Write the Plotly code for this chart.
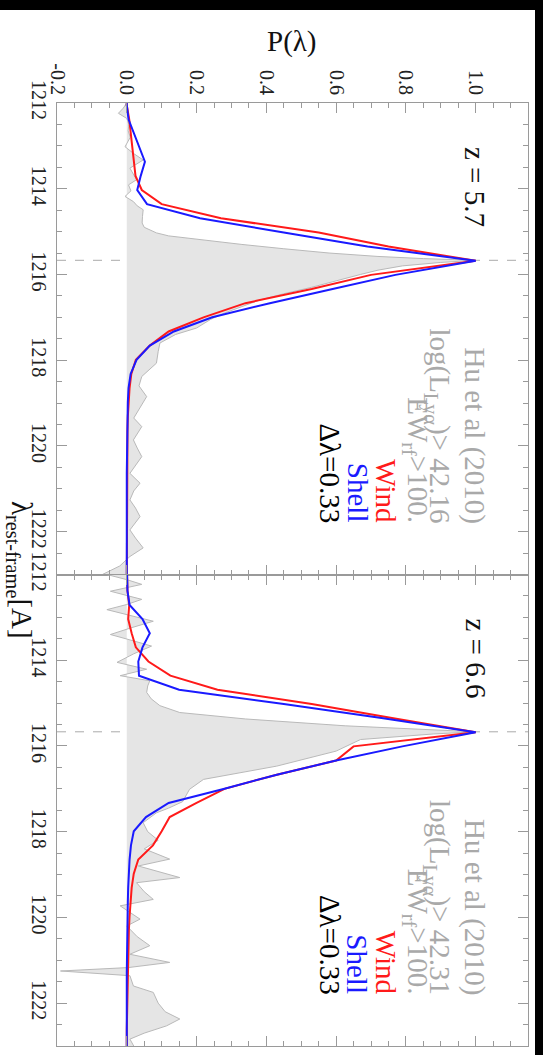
import plotly.graph_objects as go

# ---- model wavelength grid (Å) and profiles -------------------------------
lam_model = [1211.72, 1212.05, 1212.38, 1212.71, 1213.04, 1213.37, 1213.70, 1214.03,
             1214.36, 1214.69, 1215.02, 1215.35, 1215.68, 1216.01, 1216.34, 1216.67,
             1217.00, 1217.33, 1217.66, 1217.99, 1218.32, 1218.65, 1218.98, 1219.31,
             1219.64, 1219.97, 1220.30, 1220.63, 1220.96, 1221.29, 1221.62, 1221.95,
             1222.28, 1222.61, 1222.94, 1223.27]

wind_z57 = [0, 0, 0.007, 0.011, 0.015, 0.019, 0.025, 0.043, 0.10, 0.27, 0.55, 0.75,
            1.0, 0.70, 0.53, 0.34, 0.22, 0.12, 0.066, 0.026, 0.013, 0.008, 0.005, 0.003,
            0.002, 0.002, 0.001, 0.001, 0.001, 0.001, 0, 0, 0, 0, 0, 0]
shell_z57 = [0, 0, 0.005, 0.02, 0.037, 0.052, 0.04, 0.03, 0.058, 0.21, 0.45, 0.69,
             1.0, 0.77, 0.59, 0.41, 0.245, 0.135, 0.066, 0.028, 0.011, 0.005, 0.003, 0.002,
             0.001, 0.001, 0.001, 0, 0, 0, 0, 0, 0, 0, 0, 0]
wind_z66 = [0, 0, 0.002, 0.007, 0.004, 0.014, 0.026, 0.062, 0.125, 0.26, 0.53, 0.76,
            1.0, 0.65, 0.60, 0.43, 0.28, 0.20, 0.123, 0.10, 0.075, 0.033, 0.02, 0.014,
            0.010, 0.008, 0.006, 0.005, 0.003, 0.002, 0.001, 0.001, 0, 0, 0, 0]
shell_z66 = [0, 0, 0.002, 0.008, 0.045, 0.066, 0.045, 0.033, 0.035, 0.15, 0.45, 0.73,
             1.0, 0.79, 0.60, 0.43, 0.28, 0.12, 0.055, 0.02, 0.012, 0.008, 0.005, 0.004,
             0.003, 0.002, 0.002, 0.001, 0.001, 0, 0, 0, 0, 0, 0, 0]

# ---- observed stacked profiles (Hu et al 2010) ----------------------------
lam_obs_z57 = [1212.00, 1212.12, 1212.24, 1212.36, 1212.50, 1212.65, 1212.80, 1213.02,
               1213.18, 1213.33, 1213.52, 1213.66, 1213.79, 1213.91, 1214.05, 1214.18,
               1214.30, 1214.40, 1214.49, 1214.65, 1214.80, 1214.90, 1215.03, 1215.10,
               1215.20, 1215.30, 1215.40, 1215.50, 1215.58, 1215.63, 1215.67, 1215.72,
               1215.80, 1215.90, 1216.00, 1216.15, 1216.30, 1216.45, 1216.60, 1216.75,
               1216.90, 1217.05, 1217.25, 1217.40, 1217.60, 1217.80, 1218.07, 1218.38,
               1218.60, 1218.85, 1219.16, 1219.35, 1219.55, 1219.86, 1220.05, 1220.25,
               1220.64, 1220.87, 1221.05, 1221.26, 1221.45, 1221.65, 1221.96, 1222.15,
               1222.38, 1222.58, 1222.80, 1223.00]
obs_z57 = [0.0, -0.01, -0.024, 0.0, 0.006, 0.004, 0.01, -0.005,
           0.02, 0.047, 0.009, 0.02, 0.028, 0.005, 0.012, -0.005,
           0.019, 0.03, 0.047, 0.045, 0.044, 0.05, 0.085, 0.12,
           0.22, 0.33, 0.45, 0.58, 0.72, 0.85, 1.0, 0.90,
           0.79, 0.72, 0.67, 0.60, 0.53, 0.45, 0.38, 0.33,
           0.28, 0.24, 0.20, 0.14, 0.095, 0.09, 0.085, 0.043,
           0.035, 0.057, 0.033, 0.02, 0.043, 0.019, 0.03, 0.043,
           0.009, 0.038, 0.02, 0.009, 0.025, 0.038, 0.009, 0.025,
           0.047, 0.009, -0.02, -0.07]

lam_obs_z66 = [1212.00, 1212.12, 1212.23, 1212.39, 1212.58, 1212.70, 1212.82, 1212.95,
               1213.09, 1213.25, 1213.40, 1213.55, 1213.67, 1213.85, 1214.05, 1214.21,
               1214.36, 1214.48, 1214.60, 1214.75, 1214.90, 1215.06, 1215.22, 1215.37,
               1215.53, 1215.67, 1215.72, 1215.85, 1216.12, 1216.47, 1216.78, 1217.01,
               1217.30, 1217.45, 1217.56, 1217.79, 1218.00, 1218.20, 1218.40, 1218.64,
               1218.80, 1219.07, 1219.19, 1219.40, 1219.58, 1219.73, 1220.04, 1220.20,
               1220.45, 1220.66, 1220.86, 1221.05, 1221.17, 1221.25, 1221.36, 1221.60,
               1221.75, 1222.00, 1222.20, 1222.37, 1222.53, 1222.70, 1222.84, 1223.00]
obs_z66 = [-0.057, 0.0, 0.043, -0.047, 0.043, 0.0, -0.057, 0.01,
           0.076, 0.01, -0.047, 0.02, 0.071, 0.02, -0.028, 0.057,
           -0.019, 0.066, 0.06, 0.057, 0.07, 0.095, 0.152, 0.34,
           0.626, 1.0, 0.88, 0.67, 0.60, 0.43, 0.22, 0.18,
           0.16, 0.12, 0.085, 0.047, 0.06, 0.09, 0.05, 0.123,
           0.033, 0.152, 0.028, 0.05, 0.076, -0.019, 0.038, 0.0,
           0.03, 0.066, 0.009, 0.123, 0.005, -0.19, 0.009, 0.019,
           0.076, 0.09, 0.11, 0.152, 0.114, 0.05, 0.009, 0.02]

# ---- axis ticks -------------------------------------------------------------
p_ticks = [-0.2, 0.0, 0.2, 0.4, 0.6, 0.8, 1.0]
p_labels = ["-0.2", "0.0", "0.2", "0.4", "0.6", "0.8", "1.0"]
lam_ticks = [1212, 1214, 1216, 1218, 1220, 1222]
lam_labels = ["1212", "1214", "1216", "1218", "1220", "1222"]

panel_z = ["z = 5.7", "z = 6.6"]
panel_lum = ["42.16", "42.31"]
lya_center = 1215.67

SERIF = "Liberation Serif, Times New Roman, serif"
FRAME = "#9a9a9a"
W, H = 543, 1055
ML, MR, MT, MB = 57, 15, 103, 9

fig = go.Figure()

panels = [
    ("x", "y", lam_obs_z57, obs_z57, wind_z57, shell_z57),
    ("x2", "y2", lam_obs_z66, obs_z66, wind_z66, shell_z66),
]
for xa, ya, lam_o, obs, wind, shell in panels:
    fig.add_trace(go.Scatter(x=obs, y=lam_o, mode="lines", fill="tozerox",
                             fillcolor="#e5e5e5", line=dict(color="#b9b9b9", width=1),
                             xaxis=xa, yaxis=ya, showlegend=False, hoverinfo="skip"))
    fig.add_trace(go.Scatter(x=wind, y=lam_model, mode="lines",
                             line=dict(color="#ff1a1a", width=2),
                             xaxis=xa, yaxis=ya, showlegend=False))
    fig.add_trace(go.Scatter(x=shell, y=lam_model, mode="lines",
                             line=dict(color="#1a1aff", width=2),
                             xaxis=xa, yaxis=ya, showlegend=False))

# dashed line at the Lyman-alpha line centre
for xa, ya in [("x", "y"), ("x2", "y2")]:
    fig.add_shape(type="line", xref=xa, yref=ya, x0=-0.2, x1=1.15,
                  y0=lya_center, y1=lya_center, layer="below",
                  line=dict(color="#aaaaaa", width=1, dash="dash"))

def x_axis(anchor, labels):
    return dict(
        anchor=anchor, domain=[0, 1], range=[-0.2, 1.15],
        side="top" if labels else "bottom",
        tickmode="array", tickvals=p_ticks, ticktext=p_labels,
        showticklabels=labels, tickangle=90,
        tickfont=dict(family=SERIF, size=20, color="#222"),
        ticks="inside", ticklen=10, tickcolor=FRAME, tickwidth=1,
        minor=dict(tickmode="linear", tick0=-0.2, dtick=0.05, ticks="inside",
                   ticklen=5, tickcolor=FRAME, tickwidth=1),
        showline=True, linecolor=FRAME, linewidth=1, mirror="allticks",
        showgrid=False, zeroline=False,
    )

def y_axis(anchor, domain):
    return dict(
        anchor=anchor, domain=domain, range=[1223, 1212],
        tickmode="array", tickvals=lam_ticks, ticktext=lam_labels,
        tickangle=90, tickfont=dict(family=SERIF, size=20, color="#222"),
        ticks="inside", ticklen=10, tickcolor=FRAME, tickwidth=1,
        minor=dict(tickmode="linear", tick0=1212, dtick=0.5, ticks="inside",
                   ticklen=5, tickcolor=FRAME, tickwidth=1),
        showline=True, linecolor=FRAME, linewidth=1, mirror="allticks",
        showgrid=False, zeroline=False,
    )

fig.update_layout(
    width=W, height=H, autosize=False,
    margin=dict(l=ML, r=MR, t=MT, b=MB, pad=0),
    paper_bgcolor="white", plot_bgcolor="white",
    xaxis=x_axis("y", True), xaxis2=x_axis("y2", False),
    yaxis=y_axis("x", [0.5, 1.0]), yaxis2=y_axis("x2", [0.0, 0.5]),
    font=dict(family=SERIF),
)

# panel labels (text reads top to bottom)
ann = []
for i, (xa, ya) in enumerate([("x", "y"), ("x2", "y2")]):
    ann.append(dict(xref=xa, yref=ya, x=1.0, y=1213.95, text=panel_z[i],
                    textangle=90, showarrow=False, xanchor="center", yanchor="middle",
                    font=dict(family=SERIF, size=29, color="#111")))
    lines = [
        ("Hu et al (2010)", 0.997, "#a9a9a9"),
        ("log(L<sub>Lyα</sub>)> " + panel_lum[i], 0.89, "#a9a9a9"),
        ("EW<sub>rf</sub>>100.", 0.829, "#a9a9a9"),
        ("Wind", 0.743, "#ff1a1a"),
        ("Shell", 0.661, "#1a1aff"),
        ("Δλ=0.33", 0.582, "#000000"),
    ]
    for txt, xp, col in lines:
        ann.append(dict(xref=xa, yref=ya, x=xp, y=1221.85, text=txt, textangle=90,
                        showarrow=False, xanchor="center", yanchor="bottom",
                        font=dict(family=SERIF, size=29, color=col)))

def px_to_paper(px, py):
    return (px - ML) / (W - ML - MR), (H - MB - py) / (H - MT - MB)

tx, ty = px_to_paper(292, 42)
ann.append(dict(xref="paper", yref="paper", x=tx, y=ty, text="P(λ)", showarrow=False,
                xanchor="center", yanchor="middle",
                font=dict(family=SERIF, size=29, color="#111")))
lx, ly = px_to_paper(20, 570)
ann.append(dict(xref="paper", yref="paper", x=lx, y=ly,
                text="λ<sub>rest-frame</sub>[A]", textangle=90, showarrow=False,
                xanchor="center", yanchor="middle",
                font=dict(family=SERIF, size=29, color="#111")))
fig.update_layout(annotations=ann)

# dark border of the page
x0p, y0p = px_to_paper(-5, -5)
x1p, y1p = px_to_paper(W + 5, 10)
fig.add_shape(type="rect", xref="paper", yref="paper", x0=x0p, x1=x1p, y0=y1p, y1=y0p,
              fillcolor="black", line=dict(width=0), layer="above")
rx0, _ = px_to_paper(535, 0)
rx1, ry1 = px_to_paper(W + 5, H + 5)
fig.add_shape(type="rect", xref="paper", yref="paper", x0=rx0, x1=rx1, y0=ry1, y1=y0p,
              fillcolor="black", line=dict(width=0), layer="above")

fig.write_html("out.html")
